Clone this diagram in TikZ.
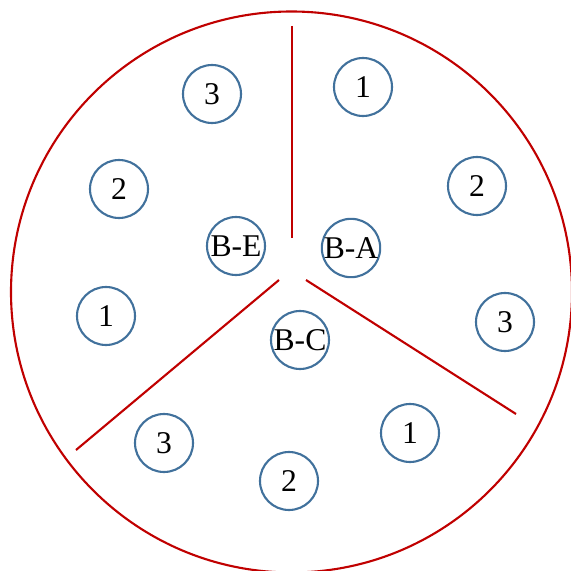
\documentclass[tikz,border=0pt]{standalone}
\usepackage{fontspec}
\setmainfont{Liberation Serif}
\definecolor{ringred}{HTML}{C00000}
\definecolor{ballblue}{HTML}{41719C}

\begin{document}
\begin{tikzpicture}[x=0.025cm, y=-0.025cm, line width=1.5pt,
    ball/.style={circle, draw=ballblue, minimum size=58*0.025cm, inner sep=0pt, font=\fontsize{22.5}{26}\selectfont}]
  \clip (0,0) rectangle (571,571);
  \useasboundingbox (0,0) rectangle (571,571);
  \coordinate (O) at (291.5,292);

  \draw[ringred] (O) circle (280.5);
  % Trennlinien
  \coordinate (T1) at (292,26);
  \coordinate (T2) at (292,238);
  \coordinate (L1) at (279,280);
  \coordinate (L2) at (76,450);
  \coordinate (R1) at (306,280);
  \coordinate (R2) at (516,414);
  \draw[ringred] (T1) -- (T2);
  \draw[ringred] (L1) -- (L2);
  \draw[ringred] (R1) -- (R2);

  \node[ball] (BE) at (236,246) {B-E};
  \node[ball] (BA) at (351,248) {B-A};
  \node[ball] (BC) at (300,340) {B-C};

  \node[ball] (e3) at (212,94)  {3};
  \node[ball] (e2) at (119,189) {2};
  \node[ball] (e1) at (106,316) {1};
  \node[ball] (a1) at (363,87)  {1};
  \node[ball] (a2) at (477,186) {2};
  \node[ball] (a3) at (505,322) {3};
  \node[ball] (c1) at (410,433) {1};
  \node[ball] (c2) at (289,481) {2};
  \node[ball] (c3) at (164,443) {3};
\end{tikzpicture}
\end{document}
